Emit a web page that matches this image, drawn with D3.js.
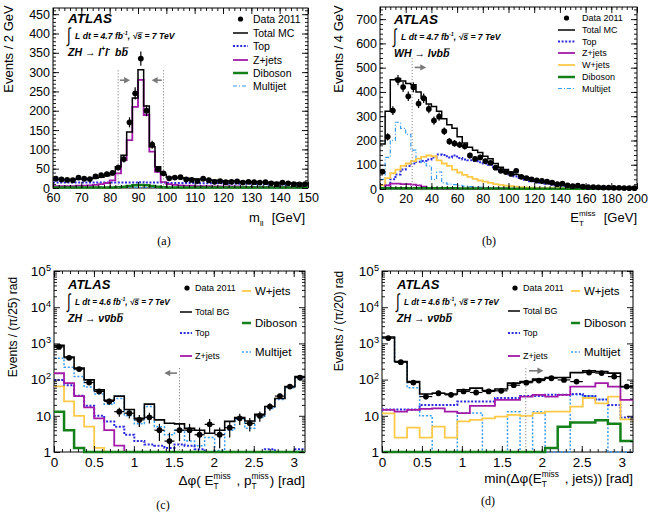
<!DOCTYPE html>
<html><head><meta charset="utf-8">
<script src="https://cdn.jsdelivr.net/npm/d3@7"></script>
<style>body{margin:0;background:#fff} text{font-family:"Liberation Sans",Arial,Helvetica,sans-serif}</style>
</head><body><script>
// ---------------- DATA ----------------
// Panel (a): m_ll, 2 GeV bins from 60 to 150
const a_range = [60, 150], a_binw = 2;
const a_data     = [24,22,21,20,27,24,23,30,33,36,39,53,75,170,245,335,200,112,48,38,25,27,28,22,21,18,24,20,16,18,15,16,17,14,16,15,14,15,12,10,14,12,10,9,10];
const a_total    = [22,22,22,22,23,23,24,26,28,32,38,55,85,145,233,306,212,107,55,35,28,27,26,25,24,23,22,21,20,19,18,18,17,17,16,16,15,15,14,14,13,13,13,12,12];
const a_top      = [14,14,14,14,14,14,14,14,14,14,14,14,14,14,14,15,14,14,14,14,13,13,13,13,13,12,12,12,12,12,11,11,11,11,11,10,10,10,10,10,9,9,9,9,9];
const a_zjets    = [5,5,5,5,6,6,7,8,10,13,20,38,72,124,210,280,189,94,42,15,10,8,7,6,6,5,5,5,4,4,4,4,4,3,3,3,3,3,3,3,2,2,2,2,2];
const a_diboson  = [1,1,1,1,1,1,1,1,1,1,1,2,3,5,7,8,7,5,3,2,1,1,1,1,1,1,1,1,1,1,1,1,1,1,1,1,1,1,1,1,1,1,1,1,1];
const a_multijet = [2,2,2,2,2,2,2,2,2,2,2,2,2,2,2,2,2,2,2,2,2,2,2,2,2,2,2,2,2,2,2,2,2,2,2,2,1,1,1,1,1,1,1,1,1];
const a_cuts = [83, 99];

// Panel (b): E_T^miss, 4 GeV bins from 0 to 200
const b_range = [0, 200], b_binw = 4;
const b_data     = [72,215,323,449,420,382,419,352,374,330,282,298,238,196,188,182,176,138,124,130,115,108,88,75,70,62,75,50,45,40,35,33,30,26,20,22,15,12,14,10,8,8,7,6,6,5,5,4,3,3];
const b_total    = [185,320,450,455,445,435,430,400,375,350,340,320,290,265,250,215,190,172,160,150,135,125,105,90,80,70,60,52,45,38,33,30,28,22,20,18,15,13,12,10,9,8,7,6,6,5,5,4,4,3];
const b_top      = [5,15,40,60,80,95,105,112,115,122,130,142,140,130,138,128,122,118,115,110,105,100,90,80,70,60,52,45,38,32,28,25,22,18,15,13,11,9,8,7,6,5,4,4,3,3,2,2,2,1];
const b_wjets    = [15,45,65,80,95,105,115,125,132,138,135,118,105,95,80,68,58,50,42,35,30,25,20,17,14,12,10,8,7,6,5,4,4,3,3,2,2,2,2,1,1,1,1,1,1,1,1,1,1,1];
const b_zjets    = [5,15,22,22,20,20,18,15,10,5,3,2,2,1,1,1,1,1,1,1,1,1,1,1,1,0,0,0,0,0,0,0,0,0,0,0,0,0,0,0,0,0,0,0,0,0,0,0,0,0];
const b_diboson  = [3,3,3,3,3,3,3,3,3,3,3,3,3,3,3,2,2,2,2,2,2,2,2,2,2,1,1,1,1,1,1,1,1,1,1,1,1,1,1,1,1,1,1,1,1,1,1,1,1,1];
const b_multijet = [40,130,200,275,250,225,160,125,110,95,40,70,25,20,18,15,12,10,8,8,6,5,4,3,3,2,2,2,1,1,1,1,1,1,1,1,1,1,1,1,0,0,0,0,0,0,0,0,0,0];
const b_cuts = [25];

// Panel (c): dphi(MET, MPT), pi/25 bins
const c_nbins = 25;
const c_data     = [800,400,195,83,47,25,13,11.8,7.7,9.1,4,2,4,4,3,5.8,3,4.7,8.5,6.2,10,18,35,64,114];
const c_total    = [880,420,208,98,52,27,35,15,8.5,21,7.7,6.2,6,4.5,4,3.3,4,7,9,7.2,11,18,30,64,122];
const c_top      = [98,70,36,19,10,7,5,3,2,1.6,1.5,1.3,1.6,1.5,1.2,1,0.5,0.5,0.5,0.5,0.5,1.2,0.5,0.5,1.2];
const c_zjets    = [150,80,35,17,8.5,4,1.5,0.5,0.5,1,0.5,0.5,0.5,0.5,0.5,0.5,0.5,0.5,0.5,0.5,0.5,0.5,0.5,0.5,0.5];
const c_wjets    = [65,25,10,5,1.3,0.5,0.5,0.5,0.5,0.5,0.5,0.5,0.5,0.5,0.5,0.5,0.5,0.5,0.5,0.5,0.5,0.5,0.5,0.5,0.5];
const c_diboson  = [13,4,1.3,0.5,0.5,0.5,0.5,0.5,0.5,0.5,0.5,0.5,0.5,0.5,0.5,0.5,0.5,0.5,0.5,0.5,0.5,0.5,0.5,0.5,0.5];
const c_multijet = [390,220,121,62,40,21,30,10,6,18,5,3,4,2,1.5,2.5,1.1,4,8,4.5,9,16,28,60,110];
const c_cuts = [1.5708];

// Panel (d): min dphi(MET, jets), pi/20 bins
const d_nbins = 20;
const d_data     = [1400,302,83,34,42,38,47,44,47,49,70,82,94,109,98,88,157,151,121,64];
const d_total    = [1500,315,88,40,42,40,52,58,50,55,80,88,103,114,114,156,174,166,151,64];
const d_top      = [15,15,15,20,20,20,25,25,25,31,31,35,35,38,38,40,35,28,20,9];
const d_zjets    = [14.5,13,14.5,15.5,16,13,11.8,18.8,18.8,27.5,27.5,34,38,34,38,64,64,80,64,27.5];
const d_wjets    = [11.7,2.5,4.7,2.5,5,2.5,7,7.7,8.5,9.5,10.6,10,11.8,13,13,18,31,22,34,8];
const d_diboson  = [0.5,0.5,0.5,0.5,0.5,0.5,0.5,0.5,0.5,0.5,0.5,0.5,0.5,1.3,5,6.5,6.5,7.5,6,2];
const d_multijet = [1400,300,60,10,0.5,0.5,12,12,0.5,0.5,13,0.5,13,0.5,0.5,38,35,28,0.5,0.5];
const d_cuts = [1.8];

// ---------------- STYLE ----------------
const C = {data:"#000", total:"#000", top:"#2a2ae0", zjets:"#a21aa8", wjets:"#ffc94a", diboson:"#14801a", multijet:"#3c9cf0"};
const NB = s => s.replace(/ /g, "\u00A0");

const svg = d3.select("body").append("svg").attr("width",649).attr("height",517);

function rich(g, x, y, parts, opt) {
  const size = opt.size, grp = g.append("g");
  let cx = 0;
  const st = el => el.attr("font-weight", opt.weight||null).attr("font-style", opt.style||null).attr("fill","#000");
  for (const p of parts) {
    if (p.t !== undefined || p.ov !== undefined) {
      const s = NB(p.t !== undefined ? p.t : p.ov);
      const fs = size*(p.scale||1);
      const el = st(grp.append("text").attr("x",cx).attr("y",0).attr("font-size",fs).text(s));
      const w = el.node().getComputedTextLength();
      if (p.ov !== undefined) {
        const h = -fs*(p.h||0.82);
        grp.append("line").attr("x1",cx+w*0.2).attr("x2",cx+w+0.5).attr("y1",h).attr("y2",h).attr("stroke","#000").attr("stroke-width",Math.max(0.8,size*0.08));
      }
      cx += w;
    } else {
      let w = 0;
      if (p.sup !== undefined) { const el = st(grp.append("text").attr("x",cx).attr("y",-size*(p.supy||0.45)).attr("font-size",size*0.62).text(p.sup)); w = Math.max(w, el.node().getComputedTextLength()); }
      if (p.sub !== undefined) { const el = st(grp.append("text").attr("x",cx).attr("y",size*0.3).attr("font-size",size*0.62).text(p.sub)); w = Math.max(w, el.node().getComputedTextLength()); }
      cx += w + (p.pad||0);
    }
  }
  const anchor = opt.anchor || "start";
  const tx = anchor==="end" ? x-cx : anchor==="middle" ? x-cx/2 : x;
  grp.attr("transform", `translate(${tx},${y})` + (opt.rotate ? ` rotate(${opt.rotate},${anchor==="middle"?cx/2:0},0)` : ""));
  return grp;
}

function drawPanel(p) {
  const g = svg.append("g");
  const x = d3.scaleLinear().domain(p.xdom).range([p.L, p.R]);
  const y = (p.log ? d3.scaleLog() : d3.scaleLinear()).domain(p.ydom).range([p.B, p.T]);
  const ymin = p.ydom[0];
  const cl = v => Math.min(Math.max(v, ymin), p.ydom[1]*1.05);
  const id = "clip_"+p.name;
  svg.append("clipPath").attr("id",id).append("rect").attr("x",p.L).attr("y",p.T).attr("width",p.R-p.L).attr("height",p.B-p.T+2);
  g.append("rect").attr("x",p.L).attr("y",p.T).attr("width",p.R-p.L).attr("height",p.B-p.T).attr("fill","none").attr("stroke","#000").attr("stroke-width",1);
  const plot = g.append("g").attr("clip-path",`url(#${id})`);
  const line = d3.line().curve(d3.curveStepAfter).x(d=>x(d[0])).y(d=>y(cl(d[1])));
  p.series.forEach(s => {
    const n = s.values.length;
    const pts = s.values.map((v,i)=>[p.edges[i], v]);
    pts.push([p.edges[n], s.values[n-1]]);
    plot.append("path").attr("d", line(pts)).attr("fill","none").attr("stroke",s.color)
      .attr("stroke-width",s.width).attr("stroke-dasharray",s.dash||null);
  });
  // cut lines + arrows
  p.cuts.forEach((c,i) => {
    plot.append("line").attr("x1",x(c)).attr("x2",x(c)).attr("y1",y(p.cutTop)).attr("y2",p.B)
      .attr("stroke","#8a8a8a").attr("stroke-width",1).attr("stroke-dasharray","1.2,1.8");
    const ar = p.arrows[i];
    const x1 = x(ar[0]), x2 = x(ar[1]), yy = y(p.arrowY);
    const dir = x2 > x1 ? 1 : -1;
    g.append("line").attr("x1",x1).attr("x2",x2-dir*4).attr("y1",yy).attr("y2",yy).attr("stroke","#7a7a7a").attr("stroke-width",1.6);
    g.append("path").attr("d",`M${x2},${yy} L${x2-dir*6},${yy-3.2} L${x2-dir*6},${yy+3.2} Z`).attr("fill","#7a7a7a");
  });
  // data points
  const centers = p.data.map((v,i)=>(p.edges[i]+p.edges[i+1])/2);
  p.data.forEach((v,i) => {
    const e = Math.sqrt(v);
    const cx = x(centers[i]);
    plot.append("line").attr("x1",cx).attr("x2",cx).attr("y1",y(cl(v-e))).attr("y2",y(cl(v+e))).attr("stroke","#000").attr("stroke-width",1.2);
    if (p.hbar) plot.append("line").attr("x1",x(p.edges[i])).attr("x2",x(p.edges[i+1])).attr("y1",y(v)).attr("y2",y(v)).attr("stroke","#000").attr("stroke-width",1.2);
    plot.append("circle").attr("cx",cx).attr("cy",y(cl(v))).attr("r",2.9).attr("fill","#000");
  });
  // axes
  const fs = p.tickFont;
  const axB = g.append("g").attr("transform",`translate(0,${p.B})`).call(d3.axisBottom(x).tickValues(p.xMajor).tickSize(-6).tickPadding(5).tickFormat(p.xFmt || (d=>String(d))));
  g.append("g").attr("transform",`translate(0,${p.B})`).call(d3.axisBottom(x).tickValues(p.xMinor).tickSize(-3).tickFormat(""));
  g.append("g").attr("transform",`translate(0,${p.T})`).call(d3.axisTop(x).tickValues(p.xMajor).tickSize(-6).tickFormat(""));
  g.append("g").attr("transform",`translate(0,${p.T})`).call(d3.axisTop(x).tickValues(p.xMinor).tickSize(-3).tickFormat(""));
  const axL = g.append("g").attr("transform",`translate(${p.L},0)`).call(d3.axisLeft(y).tickValues(p.yMajor).tickSize(-6).tickPadding(3).tickFormat(d=>String(d)));
  g.append("g").attr("transform",`translate(${p.L},0)`).call(d3.axisLeft(y).tickValues(p.yMinor).tickSize(-3).tickFormat(""));
  g.append("g").attr("transform",`translate(${p.R},0)`).call(d3.axisRight(y).tickValues(p.yMajor).tickSize(-6).tickFormat(""));
  g.append("g").attr("transform",`translate(${p.R},0)`).call(d3.axisRight(y).tickValues(p.yMinor).tickSize(-3).tickFormat(""));
  g.selectAll(".domain").remove();
  g.selectAll(".tick line").attr("stroke-width",0.9);
  axB.selectAll("text").attr("font-size",fs).attr("fill","#000");
  axL.selectAll("text").attr("font-size",fs).attr("fill","#000");
  if (p.log) {
    axL.selectAll("text").each(function(d){
      const e = Math.round(Math.log10(d)); const t = d3.select(this); t.text(null);
      if (e===0) t.text("1"); else if (e===1) t.text("10");
      else { t.append("tspan").text("10"); t.append("tspan").attr("dy","-0.55em").attr("font-size","0.68em").text(e); }
    });
  }
  return {g, x, y};
}

function legend(g, items) {
  items.forEach(it => {
    if (it.type === "data") {
      g.append("circle").attr("cx",(it.x1+it.x2)/2).attr("cy",it.y).attr("r",2.6).attr("fill","#000");
    } else {
      g.append("line").attr("x1",it.x1).attr("x2",it.x2).attr("y1",it.y).attr("y2",it.y)
        .attr("stroke",it.color).attr("stroke-width",it.width).attr("stroke-dasharray",it.dash||null);
    }
    g.append("text").attr("x",it.tx).attr("y",it.y).attr("dy","0.36em").attr("font-size",it.fs).attr("fill","#000").text(it.label);
  });
}

function atlasLabel(g, x, y0, lumi, proc, sz) {
  g.append("text").attr("x",x).attr("y",y0).attr("font-size",sz.atlas).attr("font-weight","bold").attr("font-style","italic").text("ATLAS");
  // tall integral sign
  g.append("text").attr("font-size",13).attr("transform",`translate(${x-1},${y0+18.5}) scale(1,1.55)`).text("\u222B");
  rich(g, x+7, y0+16, [{t:"L dt = "+lumi+" fb"},{sup:"-1", supy:0.5},{t:", \u221A"},{ov:"s", h:0.72},{t:" = 7 TeV"}], {size:sz.lumi, weight:"bold", style:"italic"});
  rich(g, x, y0+33, proc, {size:sz.proc, weight:"bold", style:"italic"});
}

const tickA = 12.5, tickC = 13.5;
const serif = "'Liberation Serif','DejaVu Serif',serif";

// ---------- Panel (a) ----------
{
  const edges = d3.range(a_range[0], a_range[1]+0.001, a_binw);
  const P = drawPanel({name:"a", L:53, R:308, T:8, B:188, xdom:a_range, ydom:[0,466], edges,
    xMajor:d3.range(60,151,10), xMinor:d3.range(60,151,2), yMajor:d3.range(0,451,50), yMinor:d3.range(0,461,10), tickFont:tickA,
    series:[
      {values:a_top, color:C.top, width:2, dash:"2,1.6"},
      {values:a_multijet, color:C.multijet, width:1.2, dash:"4,2,1,2"},
      {values:a_zjets, color:C.zjets, width:1.8},
      {values:a_diboson, color:C.diboson, width:2.5},
      {values:a_total, color:C.total, width:1.5}],
    data:a_data, cuts:a_cuts, cutTop:305, arrows:[[83.6,87.2],[98.4,94.8]], arrowY:279});
  const g = P.g;
  atlasLabel(g, 68, 23, "4.7", [{t:"ZH \u2192 l"},{sup:"+"},{t:"l"},{sup:"-", pad:2},{t:" b"},{ov:"b", h:0.78}], {atlas:13.5, lumi:8.6, proc:10.5});
  legend(g, [
    {type:"data", x1:233, x2:248, y:19, tx:253, fs:10.5, label:"Data 2011"},
    {x1:233, x2:248, y:33, color:C.total, width:1.5, tx:253, fs:10.5, label:"Total MC"},
    {x1:233, x2:248, y:46, color:C.top, width:2, dash:"2,1.6", tx:253, fs:10.5, label:"Top"},
    {x1:233, x2:248, y:60, color:C.zjets, width:1.8, tx:253, fs:10.5, label:"Z+jets"},
    {x1:233, x2:248, y:73, color:C.diboson, width:2.5, tx:253, fs:10.5, label:"Diboson"},
    {x1:233, x2:248, y:86, color:C.multijet, width:1.2, dash:"4,2,1,2", tx:253, fs:10.5, label:"Multijet"}]);
  rich(g, 13, 49, [{t:"Events / 2 GeV"}], {size:13, anchor:"middle", rotate:-90});
  rich(g, 305, 222, [{t:"m"},{sub:"ll", pad:1},{t:"  [GeV]"}], {size:13, anchor:"end"});
  svg.append("text").attr("x",164).attr("y",245).attr("text-anchor","middle").attr("font-size",12).style("font-family",serif).text("(a)");
}

// ---------- Panel (b) ----------
{
  const edges = d3.range(b_range[0], b_range[1]+0.001, b_binw);
  const P = drawPanel({name:"b", L:380, R:637, T:7, B:189, xdom:b_range, ydom:[0,750], edges,
    xMajor:d3.range(0,201,20), xMinor:d3.range(0,201,4), yMajor:d3.range(0,701,100), yMinor:d3.range(0,741,20), tickFont:tickA,
    series:[
      {values:b_top, color:C.top, width:2, dash:"2,1.6"},
      {values:b_multijet, color:C.multijet, width:1.2, dash:"4,2,1,2"},
      {values:b_wjets, color:C.wjets, width:1.8},
      {values:b_zjets, color:C.zjets, width:1.8},
      {values:b_diboson, color:C.diboson, width:2.5},
      {values:b_total, color:C.total, width:1.5}],
    data:b_data, cuts:b_cuts, cutTop:540, arrows:[[27,36]], arrowY:501});
  const g = P.g;
  atlasLabel(g, 394, 24, "4.7", [{t:"WH \u2192 l\u03BD"},{t:"b"},{ov:"b", h:0.78}], {atlas:13.5, lumi:8.6, proc:10.5});
  const L = [
    {type:"data", label:"Data 2011"},
    {color:C.total, width:1.5, label:"Total MC"},
    {color:C.top, width:2, dash:"2,1.6", label:"Top"},
    {color:C.zjets, width:1.8, label:"Z+jets"},
    {color:C.wjets, width:1.8, label:"W+jets"},
    {color:C.diboson, width:2.5, label:"Diboson"},
    {color:C.multijet, width:1.2, dash:"4,2,1,2", label:"Multijet"}];
  const rows = [18,30,41.5,53,65,77,88.5];
  legend(g, L.map((d,i)=>Object.assign({x1:558, x2:575, y:rows[i], tx:582, fs:9}, d)));
  rich(g, 343, 49, [{t:"Events / 4 GeV"}], {size:13, anchor:"middle", rotate:-90});
  rich(g, 637, 222, [{t:"E"},{sup:"miss", sub:"T", pad:1},{t:"  [GeV]"}], {size:13, anchor:"end"});
  svg.append("text").attr("x",489).attr("y",245).attr("text-anchor","middle").attr("font-size",12).style("font-family",serif).text("(b)");
}

// ---------- Panel (c) ----------
{
  const edges = d3.range(c_nbins+1).map(i => i*Math.PI/c_nbins);
  const minorY = [];
  [1,10,100,1000,10000].forEach(dec => [2,3,4,5,6,7,8,9].forEach(m => minorY.push(dec*m)));
  const P = drawPanel({name:"c", L:54, R:305, T:271, B:452, xdom:[0,Math.PI], ydom:[1,1e5], log:true, edges,
    xMajor:[0,0.5,1,1.5,2,2.5,3], xMinor:d3.range(0,3.15,0.1), yMajor:[1,10,100,1000,10000,100000], yMinor:minorY, tickFont:tickC,
    series:[
      {values:c_multijet, color:C.multijet, width:1.5, dash:"2,1.8"},
      {values:c_top, color:C.top, width:2, dash:"2,1.6"},
      {values:c_wjets, color:C.wjets, width:1.8},
      {values:c_zjets, color:C.zjets, width:1.8},
      {values:c_diboson, color:C.diboson, width:2.5},
      {values:c_total, color:C.total, width:1.6}],
    data:c_data, hbar:true, cuts:c_cuts, cutTop:208, arrows:[[1.54,1.38]], arrowY:151});
  const g = P.g;
  atlasLabel(g, 68, 289, "4.6", [{t:"ZH \u2192 \u03BD"},{ov:"\u03BD", h:0.62},{t:"b"},{ov:"b", h:0.78}], {atlas:13, lumi:8.2, proc:10.5});
  legend(g, [
    {type:"data", x1:182, x2:192, y:288, tx:195, fs:9, label:"Data 2011"},
    {x1:180, x2:192, y:312, color:C.total, width:1.5, tx:195, fs:9, label:"Total BG"},
    {x1:180, x2:192, y:333, color:C.top, width:2, dash:"2,1.6", tx:195, fs:9, label:"Top"},
    {x1:180, x2:192, y:356, color:C.zjets, width:1.8, tx:195, fs:9, label:"Z+jets"},
    {x1:242, x2:251, y:291, color:C.wjets, width:1.8, tx:255, fs:11.5, label:"W+jets"},
    {x1:242, x2:251, y:323, color:C.diboson, width:2.5, tx:255, fs:11.5, label:"Diboson"},
    {x1:242, x2:251, y:352, color:C.multijet, width:1.5, dash:"2,1.8", tx:255, fs:11.5, label:"Multijet"}]);
  rich(g, 17, 327, [{t:"Events / (\u03C0/25) rad"}], {size:12, anchor:"middle", rotate:-90});
  rich(g, 305, 485, [{t:"\u0394\u03C6( E"},{sup:"miss", sub:"T", pad:2},{t:" , p"},{sup:"miss", sub:"T", pad:1},{t:") [rad]"}], {size:13.5, anchor:"end"});
  svg.append("text").attr("x",163).attr("y",509).attr("text-anchor","middle").attr("font-size",12).style("font-family",serif).text("(c)");
}

// ---------- Panel (d) ----------
{
  const edges = d3.range(d_nbins+1).map(i => i*Math.PI/d_nbins);
  const minorY = [];
  [1,10,100,1000,10000].forEach(dec => [2,3,4,5,6,7,8,9].forEach(m => minorY.push(dec*m)));
  const P = drawPanel({name:"d", L:382, R:633, T:271, B:452, xdom:[0,Math.PI], ydom:[1,1e5], log:true, edges,
    xMajor:[0,0.5,1,1.5,2,2.5,3], xMinor:d3.range(0,3.15,0.1), yMajor:[1,10,100,1000,10000,100000], yMinor:minorY, tickFont:tickC,
    series:[
      {values:d_multijet, color:C.multijet, width:1.5, dash:"2,1.8"},
      {values:d_top, color:C.top, width:2, dash:"2,1.6"},
      {values:d_wjets, color:C.wjets, width:1.8},
      {values:d_zjets, color:C.zjets, width:1.8},
      {values:d_diboson, color:C.diboson, width:2.5},
      {values:d_total, color:C.total, width:1.6}],
    data:d_data, hbar:true, cuts:d_cuts, cutTop:208, arrows:[[1.84,2.02]], arrowY:175});
  const g = P.g;
  atlasLabel(g, 397, 289, "4.6", [{t:"ZH \u2192 \u03BD"},{ov:"\u03BD", h:0.62},{t:"b"},{ov:"b", h:0.78}], {atlas:13, lumi:8.2, proc:10.5});
  legend(g, [
    {type:"data", x1:510, x2:520, y:288, tx:523, fs:9, label:"Data 2011"},
    {x1:508, x2:520, y:311, color:C.total, width:1.5, tx:523, fs:9, label:"Total BG"},
    {x1:508, x2:520, y:333, color:C.top, width:2, dash:"2,1.6", tx:523, fs:9, label:"Top"},
    {x1:508, x2:520, y:356, color:C.zjets, width:1.8, tx:523, fs:9, label:"Z+jets"},
    {x1:571, x2:580, y:291, color:C.wjets, width:1.8, tx:584, fs:11.5, label:"W+jets"},
    {x1:571, x2:580, y:323, color:C.diboson, width:2.5, tx:584, fs:11.5, label:"Diboson"},
    {x1:571, x2:580, y:352, color:C.multijet, width:1.5, dash:"2,1.8", tx:584, fs:11.5, label:"Multijet"}]);
  rich(g, 343, 321, [{t:"Events / (\u03C0/20) rad"}], {size:12, anchor:"middle", rotate:-90});
  rich(g, 633, 483, [{t:"min(\u0394\u03C6(E"},{sup:"miss", sub:"T", pad:2},{t:" , jets)) [rad]"}], {size:13.5, anchor:"end"});
  svg.append("text").attr("x",488).attr("y",505).attr("text-anchor","middle").attr("font-size",12).style("font-family",serif).text("(d)");
}
</script></body></html>
